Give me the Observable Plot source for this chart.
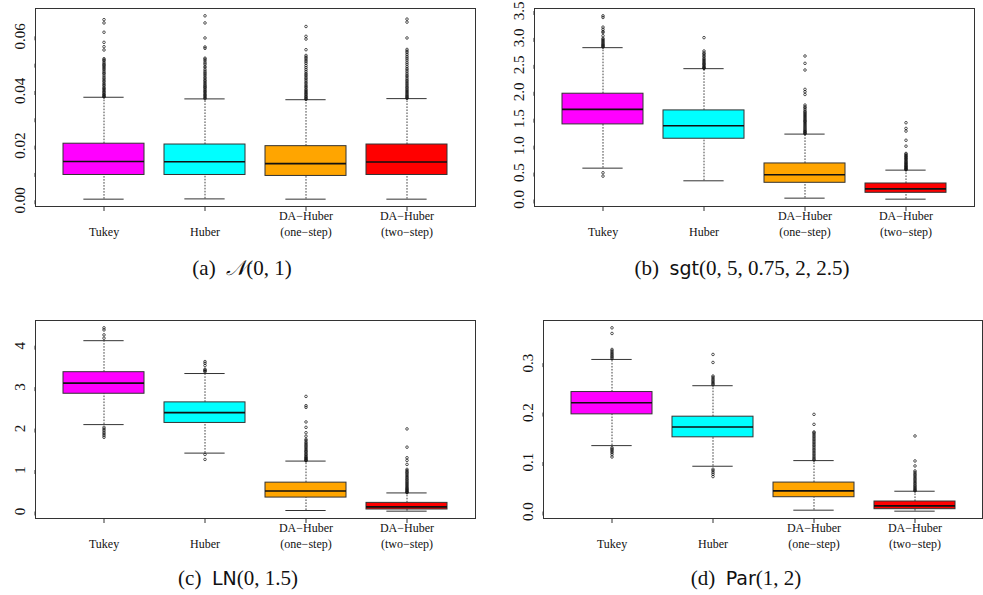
<!DOCTYPE html>
<html>
<head>
<meta charset="utf-8">
<script src="https://cdn.jsdelivr.net/npm/d3@7"></script>
<script src="https://cdn.jsdelivr.net/npm/@observablehq/plot@0.6"></script>
<style>
  html, body { margin: 0; padding: 0; background: white; }
  #wrap { position: relative; width: 983px; height: 595px; overflow: hidden; background: white; }
  .panel { position: absolute; }
  .cap { position: absolute; width: 400px; text-align: center; font-family: 'Liberation Serif', 'Times New Roman', 'DejaVu Serif', serif; font-size: 21px; line-height: 24px; color: #111; white-space: nowrap; }
  .sf { font-family: 'DejaVu Sans', 'Liberation Sans', sans-serif; font-size: 19px; }
  .scr { font-family: 'DejaVu Serif', 'DejaVu Sans', 'Noto Sans', serif; font-style: italic; }
</style>
</head>
<body>
<div id="wrap"></div>
<script>
const methods = ["Tukey", "Huber", "DA\u2212Huber\n(one\u2212step)", "DA\u2212Huber\n(two\u2212step)"];
const colors = ["#FF00FF", "#00FFFF", "#FFA500", "#FF0000"];
const SERIF = "'Liberation Serif', 'Times New Roman', 'DejaVu Serif', serif";

// (a) N(0,1)
const aLow  = [0.0004, 0.0005, 0.0004, 0.0004];
const aQ1   = [0.00925, 0.00925, 0.0089, 0.00925];
const aMed  = [0.0142, 0.0141, 0.0134, 0.0140];
const aQ3   = [0.0207, 0.0204, 0.0198, 0.0204];
const aHigh = [0.0377, 0.0371, 0.0368, 0.0372];
const aOut = [
  [0.0661, 0.0649, 0.0615, 0.0578, 0.0562, 0.0550, 0.0518, 0.0514, 0.0510, 0.0504, 0.0499, 0.0495, 0.0491, 0.0486, 0.0482, 0.0477, 0.0471, 0.0466, 0.0462, 0.0455, 0.0449, 0.0444, 0.0438, 0.0434, 0.0428, 0.0423, 0.0419, 0.0413, 0.0409, 0.0406, 0.0401, 0.0397, 0.0394, 0.0389, 0.0386, 0.0383, 0.0380, 0.0378],
  [0.0675, 0.0649, 0.0594, 0.0561, 0.0556, 0.0520, 0.0516, 0.0510, 0.0503, 0.0498, 0.0490, 0.0485, 0.0477, 0.0471, 0.0466, 0.0461, 0.0456, 0.0450, 0.0446, 0.0440, 0.0436, 0.0431, 0.0427, 0.0422, 0.0418, 0.0414, 0.0411, 0.0406, 0.0402, 0.0398, 0.0395, 0.0390, 0.0386, 0.0383, 0.0379, 0.0375, 0.0372],
  [0.0636, 0.0600, 0.0590, 0.0551, 0.0530, 0.0524, 0.0519, 0.0513, 0.0507, 0.0501, 0.0493, 0.0486, 0.0479, 0.0472, 0.0465, 0.0460, 0.0455, 0.0449, 0.0444, 0.0438, 0.0432, 0.0427, 0.0421, 0.0416, 0.0412, 0.0406, 0.0402, 0.0398, 0.0394, 0.0390, 0.0387, 0.0382, 0.0379, 0.0375, 0.0372, 0.0369],
  [0.0663, 0.0652, 0.0594, 0.0552, 0.0546, 0.0540, 0.0533, 0.0526, 0.0520, 0.0513, 0.0505, 0.0498, 0.0490, 0.0483, 0.0477, 0.0470, 0.0463, 0.0457, 0.0452, 0.0446, 0.0440, 0.0435, 0.0430, 0.0425, 0.0420, 0.0415, 0.0411, 0.0406, 0.0402, 0.0398, 0.0394, 0.0390, 0.0386, 0.0382, 0.0379, 0.0375, 0.0373]
];
const aTicks = [0, 0.01, 0.02, 0.03, 0.04, 0.05, 0.06];
const aLabels = ["0.00", "", "0.02", "", "0.04", "", "0.06"];

// (b) sgt(0,5,0.75,2,2.5)
const bLow  = [0.582, 0.347, 0.025, 0.006];
const bQ1   = [1.394, 1.128, 0.310, 0.124];
const bMed  = [1.673, 1.369, 0.458, 0.198];
const bQ3   = [1.964, 1.654, 0.669, 0.297];
const bHigh = [2.819, 2.429, 1.214, 0.545];
const bOut = [
  [3.41, 3.38, 3.20, 3.16, 3.12, 3.10, 3.04, 2.99, 2.97, 2.95, 2.93, 2.91, 2.89, 2.87, 2.86, 2.84, 2.83, 0.496, 0.434],
  [3.005, 2.757, 2.72, 2.70, 2.67, 2.65, 2.62, 2.60, 2.58, 2.56, 2.54, 2.52, 2.51, 2.49, 2.47, 2.455, 2.44, 2.435],
  [2.664, 2.528, 2.404, 2.045, 2.00, 1.95, 1.753, 1.72, 1.70, 1.67, 1.64, 1.62, 1.60, 1.58, 1.56, 1.54, 1.52, 1.50, 1.48, 1.46, 1.45, 1.43, 1.41, 1.39, 1.37, 1.35, 1.33, 1.31, 1.29, 1.27, 1.26, 1.245, 1.23, 1.22],
  [1.425, 1.32, 1.27, 1.10, 0.99, 0.855, 0.84, 0.82, 0.805, 0.79, 0.77, 0.755, 0.74, 0.72, 0.705, 0.69, 0.675, 0.66, 0.645, 0.63, 0.62, 0.605, 0.595, 0.58, 0.57, 0.56, 0.55]
];
const bTicks = [0, 0.5, 1, 1.5, 2, 2.5, 3, 3.5];
const bLabels = ["0.0", "0.5", "1.0", "1.5", "2.0", "2.5", "3.0", "3.5"];

// (c) LN(0,1.5)
const cLow  = [2.096, 1.408, 0.024, 0.008];
const cQ1   = [2.84, 2.136, 0.336, 0.048];
const cMed  = [3.096, 2.384, 0.496, 0.112];
const cQ3   = [3.36, 2.632, 0.696, 0.208];
const cHigh = [4.12, 3.328, 1.216, 0.448];
const cOut = [
  [4.43, 4.38, 4.26, 4.18, 2.03, 1.99, 1.95, 1.91, 1.87, 1.83, 1.79],
  [3.616, 3.576, 3.52, 3.43, 3.41, 3.39, 3.37, 1.376, 1.256],
  [2.776, 2.552, 2.512, 2.16, 2.03, 1.90, 1.816, 1.74, 1.71, 1.67, 1.64, 1.61, 1.58, 1.55, 1.52, 1.49, 1.46, 1.44, 1.41, 1.38, 1.36, 1.33, 1.31, 1.29, 1.27, 1.25, 1.235, 1.225],
  [1.992, 1.552, 1.296, 1.232, 1.136, 1.016, 0.985, 0.955, 0.93, 0.90, 0.87, 0.84, 0.815, 0.785, 0.76, 0.73, 0.705, 0.68, 0.655, 0.63, 0.605, 0.58, 0.56, 0.54, 0.52, 0.50, 0.48, 0.465, 0.455]
];
const cTicks = [0, 1, 2, 3, 4];
const cLabels = ["0", "1", "2", "3", "4"];

// (d) Par(1,2)
const dLow  = [0.1332, 0.0915, 0.0027, 0.0007];
const dQ1   = [0.1964, 0.150, 0.0289, 0.0047];
const dMed  = [0.220, 0.1708, 0.0417, 0.0114];
const dQ3   = [0.2415, 0.1917, 0.0585, 0.0202];
const dHigh = [0.3074, 0.2543, 0.1029, 0.041];
const dOut = [
  [0.3713, 0.3599, 0.3276, 0.3248, 0.3219, 0.3192, 0.3168, 0.3141, 0.3118, 0.3095, 0.1290, 0.1266, 0.1242, 0.1213, 0.1188, 0.1150, 0.1102],
  [0.3175, 0.3013, 0.2738, 0.2712, 0.2683, 0.2656, 0.2631, 0.2604, 0.2582, 0.2560, 0.0854, 0.0823, 0.0788, 0.0752, 0.0706],
  [0.1964, 0.1762, 0.1608, 0.1589, 0.1562, 0.1531, 0.1503, 0.1472, 0.1444, 0.1413, 0.1384, 0.1352, 0.1325, 0.1293, 0.1262, 0.1235, 0.1203, 0.1172, 0.1144, 0.1113, 0.1085, 0.1058, 0.1038],
  [0.1527, 0.1022, 0.0921, 0.0820, 0.0792, 0.0763, 0.0738, 0.0711, 0.0684, 0.0658, 0.0633, 0.0607, 0.0582, 0.0560, 0.0533, 0.0512, 0.0490, 0.0469, 0.0450, 0.0431, 0.0415]
];
const dTicks = [0, 0.1, 0.2, 0.3];
const dLabels = ["0.0", "0.1", "0.2", "0.3"];

const PI = 0.2, PO = 0.26;

function panel(o) {
  const boxes = methods.map((m, i) => ({m, low: o.low[i], q1: o.q1[i], med: o.med[i], q3: o.q3[i], high: o.high[i], fill: colors[i]}));
  const pts = o.out.flatMap((arr, i) => arr.map(v => ({m: methods[i], v})));
  const all = [...o.low, ...o.high, ...o.out.flat()];
  const lo = d3.min(all), hi = d3.max(all), pad = (hi - lo) * 0.04;
  const H = 250, MT = 8, MB = 44;
  const pw = o.width - o.ml - o.mr;
  const step = pw / (methods.length - PI + 2 * PO);
  const bw = step * (1 - PI);
  return Plot.plot({
    width: o.width, height: H,
    marginTop: MT, marginBottom: MB, marginLeft: o.ml, marginRight: o.mr,
    style: {fontFamily: SERIF, background: "white", color: "#111", overflow: "visible"},
    x: {type: "band", domain: methods, paddingInner: PI, paddingOuter: PO, axis: null},
    y: {domain: [lo - pad, hi + pad], axis: null},
    marks: [
      Plot.ruleX(boxes, {x: "m", y1: "q3", y2: "high", stroke: "#111", strokeWidth: 0.8, strokeDasharray: "1.6,1.4"}),
      Plot.ruleX(boxes, {x: "m", y1: "low", y2: "q1", stroke: "#111", strokeWidth: 0.8, strokeDasharray: "1.6,1.4"}),
      Plot.tickY(boxes, {x: "m", y: "high", stroke: "#333", strokeWidth: 1, insetLeft: bw / 4, insetRight: bw / 4}),
      Plot.tickY(boxes, {x: "m", y: "low", stroke: "#333", strokeWidth: 1, insetLeft: bw / 4, insetRight: bw / 4}),
      Plot.barY(boxes, {x: "m", y1: "q1", y2: "q3", fill: "fill", stroke: "#333", strokeWidth: 1}),
      Plot.tickY(boxes, {x: "m", y: "med", stroke: "#111", strokeWidth: 1.6}),
      Plot.dot(pts, {x: "m", y: "v", r: 1.3, stroke: "#111", strokeWidth: 0.7, fill: "none"}),
      Plot.frame({stroke: "#333", strokeWidth: 1}),
      Plot.ruleY([lo - pad], {x1: methods[0], x2: methods[methods.length - 1], stroke: "#000", strokeWidth: 1.4, insetLeft: bw / 2, insetRight: bw / 2}),
      Plot.axisX({tickSize: 5, tickPadding: 24, lineAnchor: "bottom", fontSize: 12, lineHeight: 1.33, stroke: "#333", fontFamily: SERIF}),
      Plot.axisY({ticks: o.ticks, tickFormat: d => o.labels[o.ticks.indexOf(d)], tickSize: 4, tickPadding: 11, rotate: -90, textAnchor: "middle", lineAnchor: "middle", fontSize: 15, stroke: "#333", fontFamily: SERIF})
    ]
  });
}

const wrap = document.getElementById("wrap");
function place(el, left, top) {
  el.classList.add("panel");
  el.style.left = left + "px";
  el.style.top = top + "px";
  wrap.appendChild(el);
}
place(panel({low: aLow, q1: aQ1, med: aMed, q3: aQ3, high: aHigh, out: aOut, ticks: aTicks, labels: aLabels, width: 490, ml: 35, mr: 15}), 0, 0);
place(panel({low: bLow, q1: bQ1, med: bMed, q3: bQ3, high: bHigh, out: bOut, ticks: bTicks, labels: bLabels, width: 493, ml: 44, mr: 9}), 490, 0);
place(panel({low: cLow, q1: cQ1, med: cMed, q3: cQ3, high: cHigh, out: cOut, ticks: cTicks, labels: cLabels, width: 490, ml: 35, mr: 15}), 0, 312);
place(panel({low: dLow, q1: dQ1, med: dMed, q3: dQ3, high: dHigh, out: dOut, ticks: dTicks, labels: dLabels, width: 493, ml: 53, mr: 1}), 490, 312);

const caps = [
  {html: '(a)&nbsp; <span class="scr">\u{1D4A9}</span>(0, 1)', cx: 242, cy: 268},
  {html: '(b)&nbsp; <span class="sf">sgt</span>(0, 5, 0.75, 2, 2.5)', cx: 742, cy: 268},
  {html: '(c)&nbsp; <span class="sf">LN</span>(0, 1.5)', cx: 238, cy: 578},
  {html: '(d)&nbsp; <span class="sf">Par</span>(1, 2)', cx: 746, cy: 578}
];
for (const c of caps) {
  const d = document.createElement("div");
  d.className = "cap";
  d.innerHTML = c.html;
  d.style.left = (c.cx - 200) + "px";
  d.style.top = (c.cy - 12) + "px";
  wrap.appendChild(d);
}
</script>
</body>
</html>
